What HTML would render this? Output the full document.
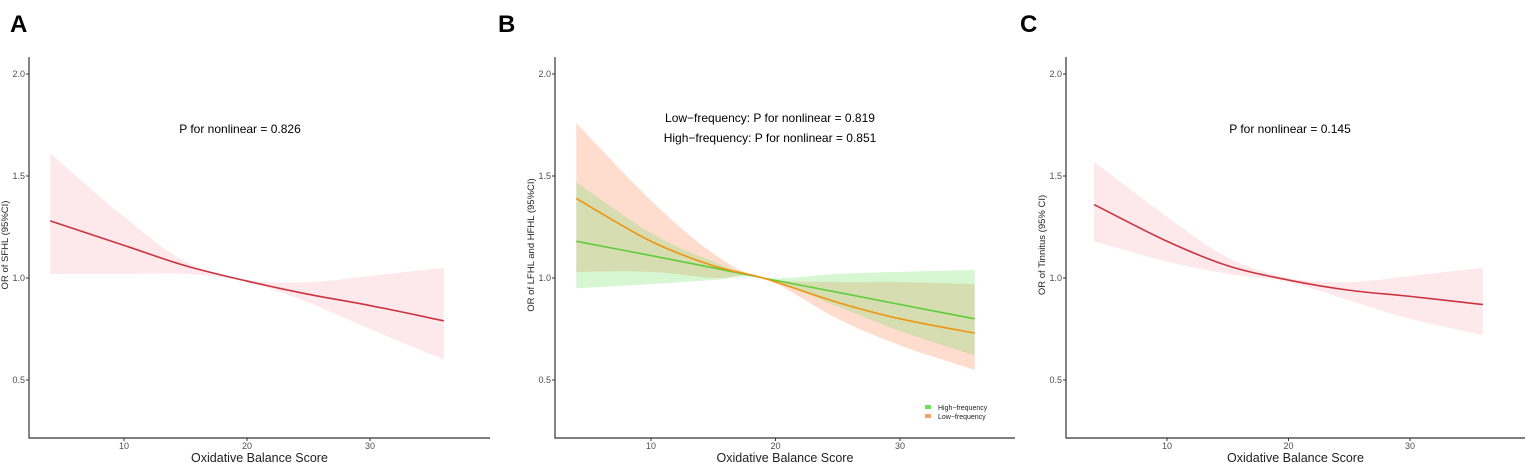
<!DOCTYPE html>
<html><head><meta charset="utf-8">
<style>
body{margin:0;background:#fff;}
svg{display:block;font-family:"Liberation Sans",Arial,sans-serif;}
</style></head>
<body>
<svg id="c" width="1535" height="470"></svg>
<script>
const xs=[4,10,15,20,25,30,36];
const xsB=[4,10,15,19,25,30,36];
const aFit=[1.28,1.16,1.06,0.985,0.92,0.865,0.79];
const aUp=[1.61,1.30,1.08,0.99,0.98,1.01,1.05];
const aLo=[1.02,1.02,1.02,0.98,0.88,0.75,0.60];
const bLowFit=[1.39,1.18,1.06,1.0,0.88,0.80,0.73];
const bLowUp=[1.76,1.38,1.12,1.0,0.98,0.98,0.97];
const bLowLo=[1.03,1.03,1.0,1.0,0.80,0.67,0.55];
const bHighFit=[1.18,1.11,1.05,1.0,0.93,0.87,0.80];
const bHighUp=[1.47,1.22,1.08,1.0,1.02,1.03,1.04];
const bHighLo=[0.95,0.97,0.99,1.0,0.86,0.74,0.62];
const cFit=[1.36,1.18,1.06,0.99,0.94,0.91,0.87];
const cUp=[1.57,1.30,1.10,1.0,0.98,1.01,1.05];
const cLo=[1.18,1.08,1.02,0.98,0.89,0.80,0.72];
const yTicks=[0.5,1.0,1.5,2.0];
const xTicks=[10,20,30];
const NS='http://www.w3.org/2000/svg';
const svg=document.getElementById('c');
function el(t,a,p){const e=document.createElementNS(NS,t);for(const k in a)e.setAttribute(k,a[k]);(p||svg).appendChild(e);return e;}
function smooth(pts){let d='M'+pts[0][0]+','+pts[0][1];for(let i=0;i<pts.length-1;i++){const p0=pts[Math.max(0,i-1)],p1=pts[i],p2=pts[i+1],p3=pts[Math.min(pts.length-1,i+2)];d+=' C'+(p1[0]+(p2[0]-p0[0])/6)+','+(p1[1]+(p2[1]-p0[1])/6)+' '+(p2[0]-(p3[0]-p1[0])/6)+','+(p2[1]-(p3[1]-p1[1])/6)+' '+p2[0]+','+p2[1];}return d;}
function yS(v){return 278-(v-1)*204;}
function panel(o){
  const g=el('g',{});
  
  
  const xS=v=>o.x10+(v-10)*o.k;
  const t=el('text',{x:o.letterX,y:32,'font-size':24,'font-weight':'bold',fill:'#000'},g);t.textContent=o.letter;
  
  o.bands.forEach(b=>{
    const up=b.xs.map((x,i)=>[xS(x),yS(b.up[i])]);
    const lo=b.xs.map((x,i)=>[xS(x),yS(b.lo[i])]).reverse();
    const d=smooth(up)+' L'+lo[0][0]+','+lo[0][1]+smooth(lo).replace(/^M[^ ]+/,'')+' Z';
    const p=el('path',{d:d,fill:b.fill,'fill-opacity':b.op},g);
    
  });
  o.lines.forEach(l=>{
    const p=el('path',{d:smooth(l.xs.map((x,i)=>[xS(x),yS(l.v[i])])),fill:'none',stroke:l.c,'stroke-width':1.6},g);
    
  });
  const ax=el('path',{d:'M'+o.ax+',57 V438 H'+o.axEnd,fill:'none',stroke:'#333','stroke-width':1.2},g);
  
  yTicks.forEach(v=>{
    el('line',{x1:o.ax-3,x2:o.ax,y1:yS(v),y2:yS(v),stroke:'#333'},g);
    const tt=el('text',{x:o.ax-4,y:yS(v)+3,'font-size':9,fill:'#4d4d4d','text-anchor':'end'},g);tt.textContent=v.toFixed(1);
    
  });
  xTicks.forEach(v=>{
    el('line',{x1:xS(v),x2:xS(v),y1:438,y2:441,stroke:'#333'},g);
    const tt=el('text',{x:xS(v),y:449,'font-size':9,fill:'#4d4d4d','text-anchor':'middle'},g);tt.textContent=v;
    
  });
  const xt=el('text',{x:(o.ax+o.axEnd)/2,y:462,'font-size':12.5,fill:'#222','text-anchor':'middle'},g);xt.textContent='Oxidative Balance Score';
  
  const yt=el('text',{x:0,y:0,'font-size':9.5,fill:'#222','text-anchor':'middle',transform:'translate('+(o.ax-21)+',245) rotate(-90)'},g);yt.textContent=o.ytitle;
  
  o.notes.forEach((n,i)=>{
    const nt=el('text',{x:o.noteX,y:o.noteY+i*20,'font-size':12,fill:'#000','text-anchor':'middle'},g);nt.textContent=n;
    
  });
  return g;
}
panel({letter:'A',letterX:10,ax:29,axEnd:490,x10:124,k:12.3,ytitle:'OR of SFHL (95%CI)',noteX:240,noteY:133,
  notes:['P for nonlinear = 0.826'],
  bands:[{name:'ci-band',xs:xs,up:aUp,lo:aLo,fill:'#f7b6bd',op:0.3}],
  lines:[{name:'or-line',xs:xs,v:aFit,c:'#cc3340'}]});
panel({letter:'B',letterX:498,ax:555,axEnd:1015,x10:651,k:12.45,ytitle:'OR of LFHL and HFHL (95%CI)',noteX:770,noteY:122,
  notes:['Low−frequency: P for nonlinear = 0.819','High−frequency: P for nonlinear = 0.851'],
  bands:[{name:'ci-band-low-frequency',xs:xsB,up:bLowUp,lo:bLowLo,fill:'#fb8c5c',op:0.3},
         {name:'ci-band-high-frequency',xs:xsB,up:bHighUp,lo:bHighLo,fill:'#7be06a',op:0.3}],
  lines:[{name:'high-frequency-line',xs:xsB,v:bHighFit,c:'#5fce3a'},{name:'low-frequency-line',xs:xsB,v:bLowFit,c:'#f0950f'}]});
panel({letter:'C',letterX:1020,ax:1066,axEnd:1525,x10:1167,k:12.15,ytitle:'OR of Tinnitus (95% CI)',noteX:1290,noteY:133,
  notes:['P for nonlinear = 0.145'],
  bands:[{name:'ci-band',xs:xs,up:cUp,lo:cLo,fill:'#f7b6bd',op:0.3}],
  lines:[{name:'or-line',xs:xs,v:cFit,c:'#cc3340'}]});
const lg=el('g',{});

[['High−frequency','#6be05a',408],['Low−frequency','#f8a070',417]].forEach(r=>{
  const s=el('rect',{x:925,y:r[2]-3,width:6,height:4,fill:r[1]},lg);
  
  const t=el('text',{x:938,y:r[2]+2,'font-size':7,fill:'#222'},lg);t.textContent=r[0];
  
});
</script>
</body></html>
